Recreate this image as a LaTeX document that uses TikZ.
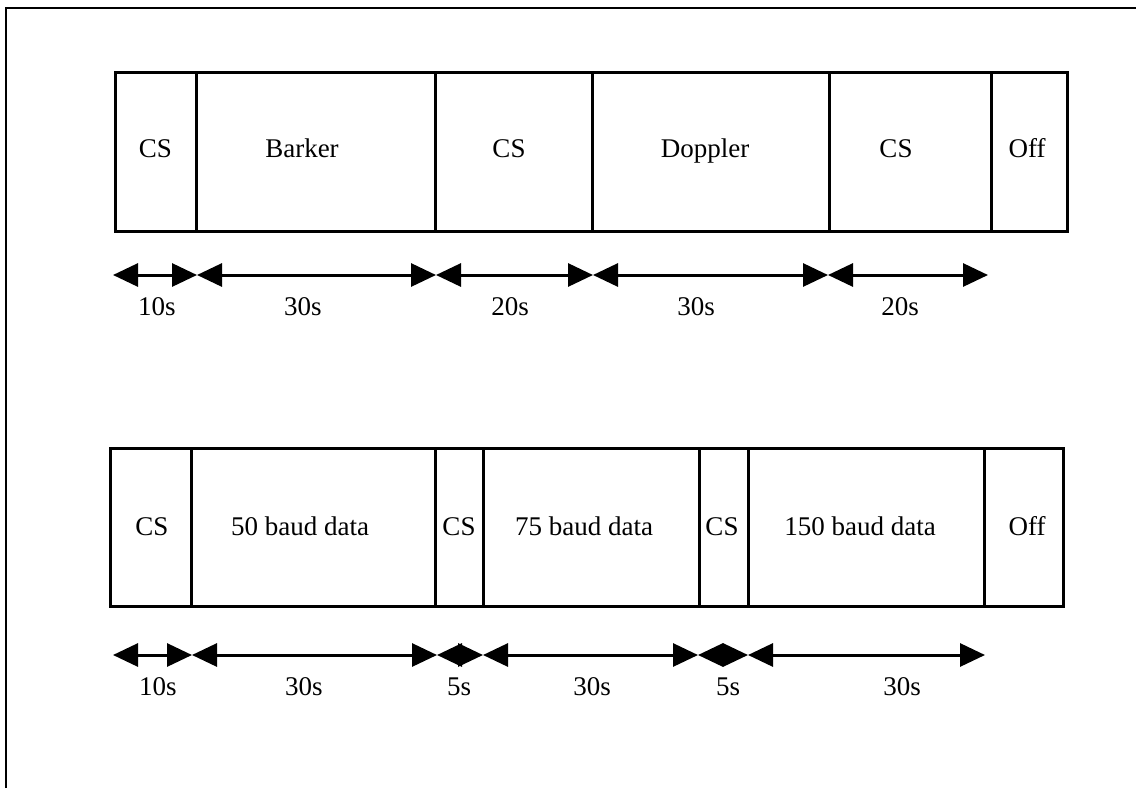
\documentclass[tikz,border=0pt]{standalone}
\usepackage{fontspec}
\setmainfont{Liberation Serif}
\usetikzlibrary{arrows.meta}
\begin{document}
\begin{tikzpicture}[x=1pt,y=-1pt,
  cell/.style={draw, line width=3pt, inner sep=0pt, outer sep=0pt, anchor=north west},
  lbl/.style={font=\fontsize{27}{31}\selectfont, anchor=base, inner sep=0pt},
  dim/.style={line width=3pt, {Triangle[length=25pt,width=23pt]}-{Triangle[length=25pt,width=23pt]}},
  frameline/.style={line width=2.2pt}]
\useasboundingbox (0,0) rectangle (1136,788);
% frame
\coordinate (fa) at (6,788);
\coordinate (fb) at (6,8);
\coordinate (fc) at (1136,8);
\draw[frameline] (fa) -- (fb) -- (fc);
% top row boxes
\node[cell, minimum width=81pt, minimum height=159pt] (t1) at (115,72) {};
\node[cell, minimum width=239pt, minimum height=159pt] (t2) at (196,72) {};
\node[cell, minimum width=157pt, minimum height=159pt] (t3) at (435,72) {};
\node[cell, minimum width=237pt, minimum height=159pt] (t4) at (592,72) {};
\node[cell, minimum width=162pt, minimum height=159pt] (t5) at (829,72) {};
\node[cell, minimum width=76pt, minimum height=159pt] (t6) at (991,72) {};
\node[lbl] (tt1) at (155.5,157) {CS};
\node[lbl] (tt2) at (302,157) {Barker};
\node[lbl] (tt3) at (509,157) {CS};
\node[lbl] (tt4) at (705,157) {Doppler};
\node[lbl] (tt5) at (896,157) {CS};
\node[lbl] (tt6) at (1027,157) {Off};
% top dimension arrows
\coordinate (ta0) at (113,275);
\coordinate (ta1) at (197,275);
\coordinate (ta2) at (436,275);
\coordinate (ta3) at (593,275);
\coordinate (ta4) at (828,275);
\coordinate (ta5) at (988,275);
\draw[dim] (ta0) -- (ta1);
\draw[dim] (ta1) -- (ta2);
\draw[dim] (ta2) -- (ta3);
\draw[dim] (ta3) -- (ta4);
\draw[dim] (ta4) -- (ta5);
\node[lbl] (tl1) at (157,315) {10s};
\node[lbl] (tl2) at (303,315) {30s};
\node[lbl] (tl3) at (510,315) {20s};
\node[lbl] (tl4) at (696,315) {30s};
\node[lbl] (tl5) at (900,315) {20s};
% bottom row boxes
\node[cell, minimum width=81pt, minimum height=158pt] (b1) at (110,448) {};
\node[cell, minimum width=244pt, minimum height=158pt] (b2) at (191,448) {};
\node[cell, minimum width=48pt, minimum height=158pt] (b3) at (435,448) {};
\node[cell, minimum width=216pt, minimum height=158pt] (b4) at (483,448) {};
\node[cell, minimum width=49pt, minimum height=158pt] (b5) at (699,448) {};
\node[cell, minimum width=236pt, minimum height=158pt] (b6) at (748,448) {};
\node[cell, minimum width=79pt, minimum height=158pt] (b7) at (984,448) {};
\node[lbl] (bt1) at (152,535) {CS};
\node[lbl] (bt2) at (300,535) {50 baud data};
\node[lbl] (bt3) at (459,535) {CS};
\node[lbl] (bt4) at (584,535) {75 baud data};
\node[lbl] (bt5) at (722,535) {CS};
\node[lbl] (bt6) at (860,535) {150 baud data};
\node[lbl] (bt7) at (1027,535) {Off};
% bottom dimension arrows
\coordinate (ba0) at (113,655);
\coordinate (ba1) at (192,655);
\coordinate (ba2) at (437,655);
\coordinate (ba3) at (483,655);
\coordinate (ba4) at (698,655);
\coordinate (ba5) at (748,655);
\coordinate (ba6) at (985,655);
\draw[dim] (ba0) -- (ba1);
\draw[dim] (ba1) -- (ba2);
\draw[dim] (ba2) -- (ba3);
\draw[dim] (ba3) -- (ba4);
\draw[dim] (ba4) -- (ba5);
\draw[dim] (ba5) -- (ba6);
\node[lbl] (bl1) at (158,695) {10s};
\node[lbl] (bl2) at (304,695) {30s};
\node[lbl] (bl3) at (459,695) {5s};
\node[lbl] (bl4) at (592,695) {30s};
\node[lbl] (bl5) at (728,695) {5s};
\node[lbl] (bl6) at (902,695) {30s};
\end{tikzpicture}
\end{document}
